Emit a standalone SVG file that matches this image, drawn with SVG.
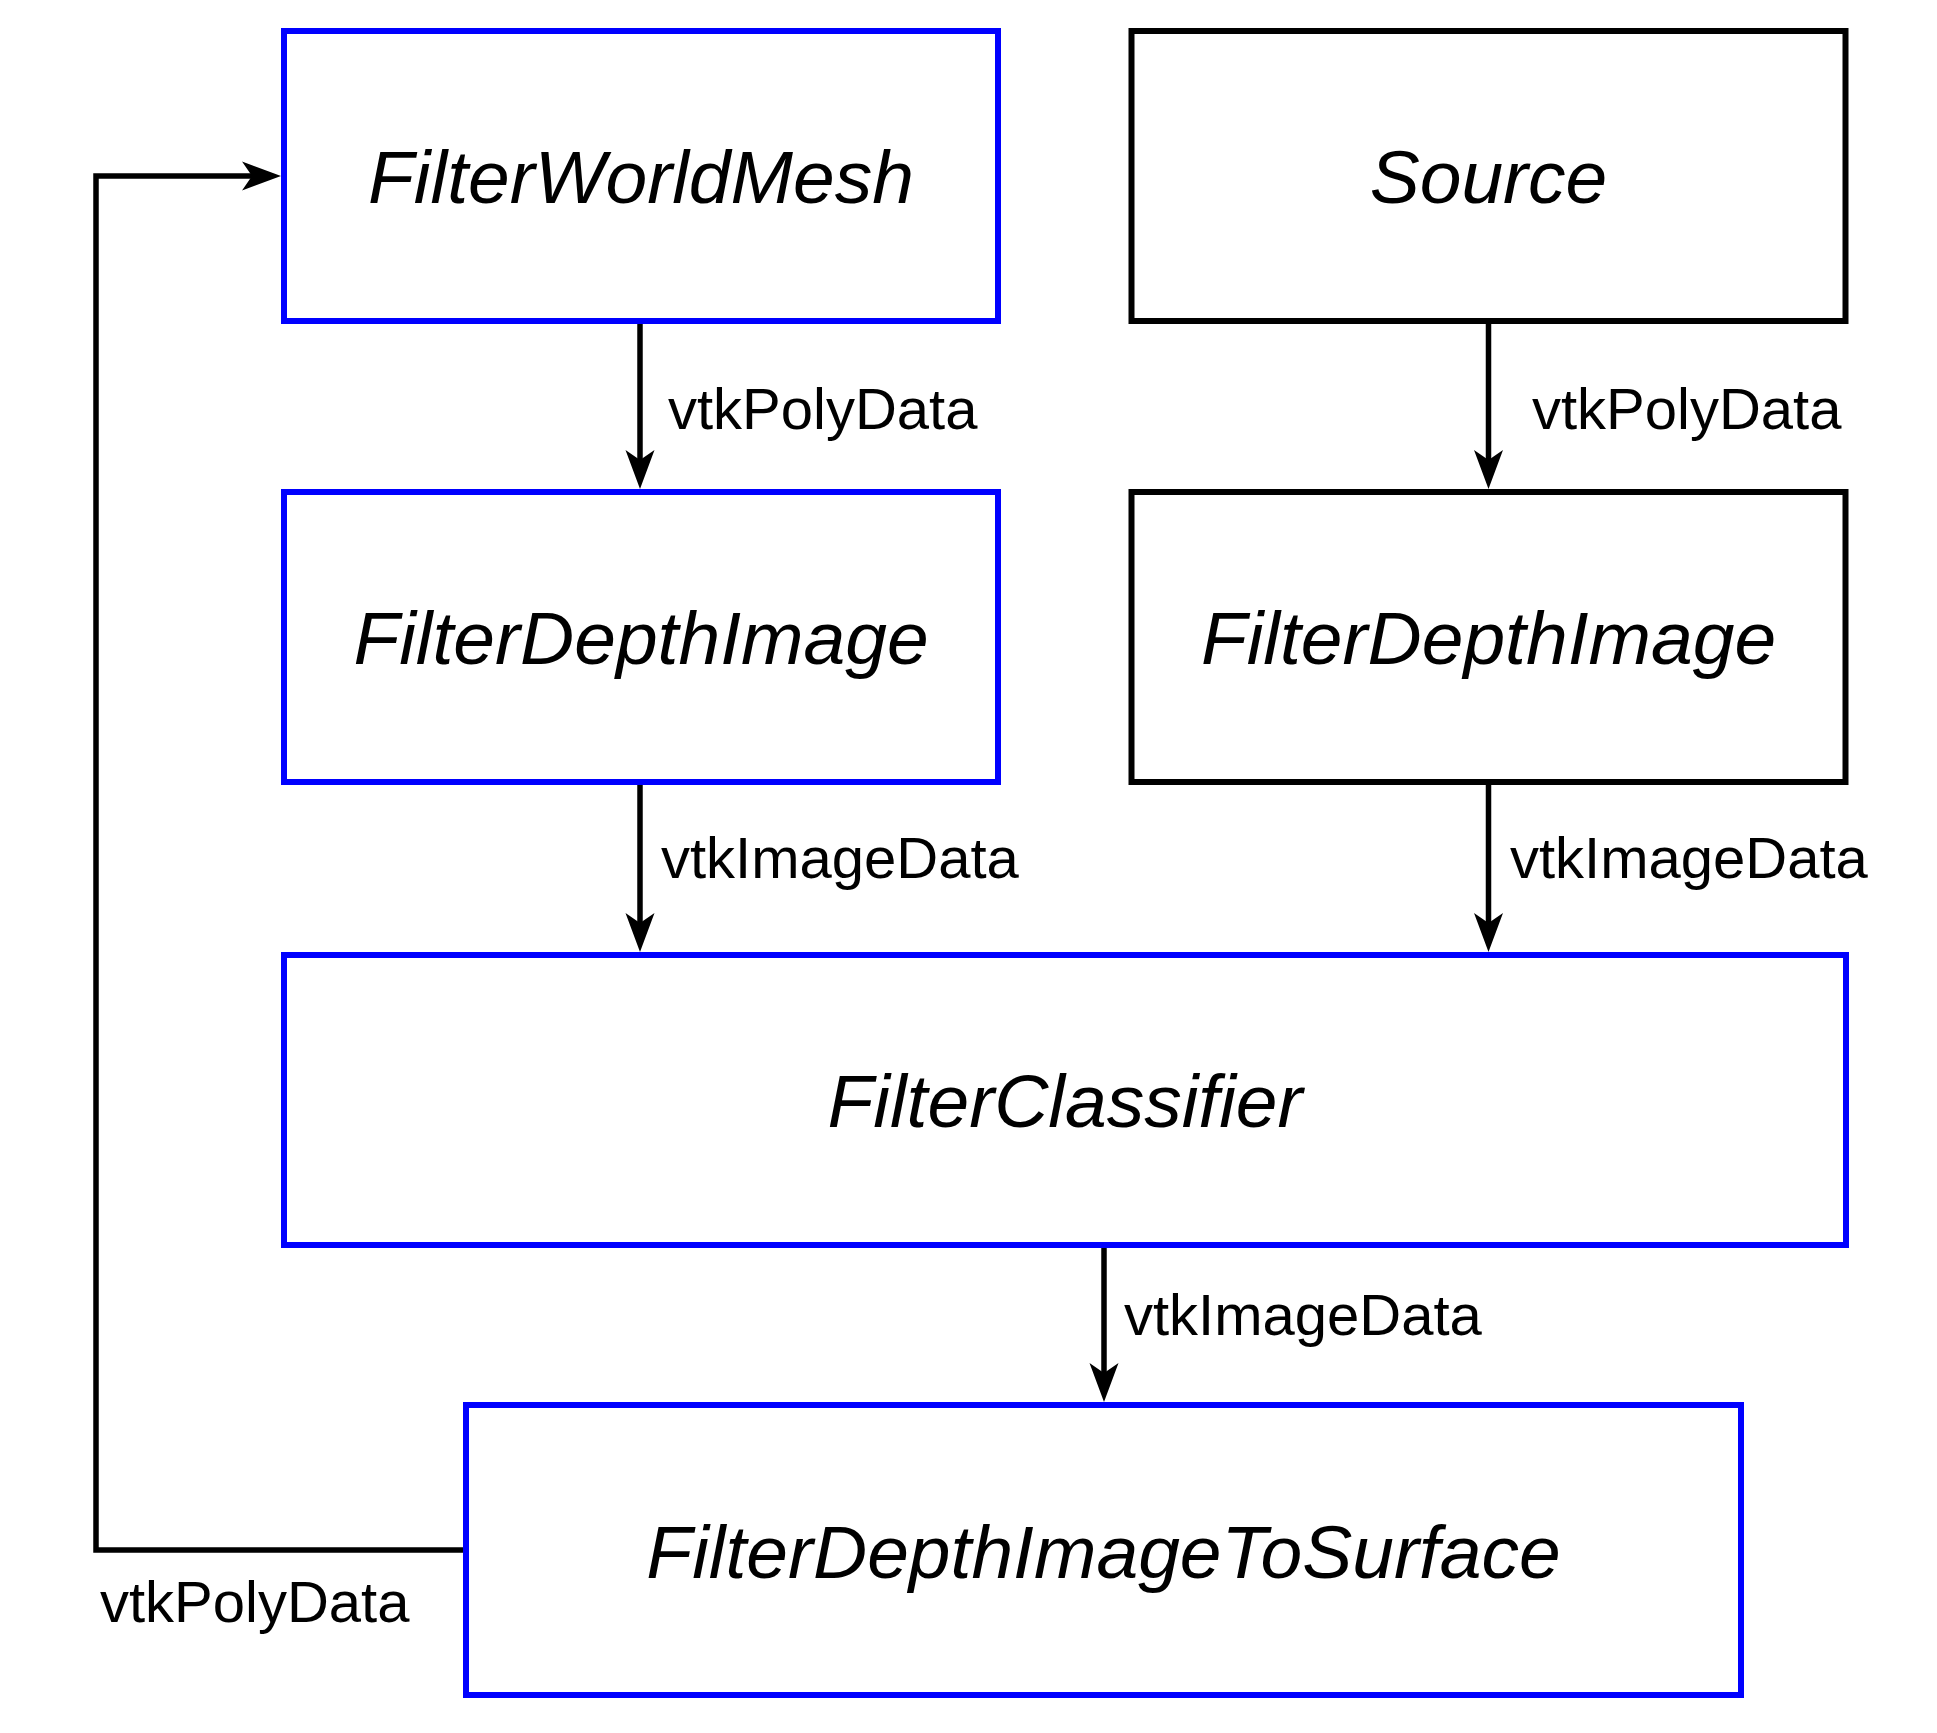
<svg xmlns="http://www.w3.org/2000/svg" width="1937" height="1733" viewBox="0 0 1937 1733">
<style>
.box{fill:#fff;stroke-width:6;stroke-linejoin:miter}
.blue{stroke:#0000ff}
.black{stroke:#000}
.name{font-family:"Liberation Sans",Arial,sans-serif;font-style:italic;font-size:75px;fill:#000;text-anchor:middle}
.lbl{font-family:"Liberation Sans",Arial,sans-serif;font-size:58px;fill:#000}
.conn{fill:none;stroke:#000;stroke-width:5.5;marker-end:url(#arr)}
</style>
<defs>
<marker id="arr" markerWidth="42" markerHeight="32" viewBox="0 -16 42 32" refX="10" refY="0" orient="auto" markerUnits="userSpaceOnUse">
<path d="M39,0 L0,-14.5 L10,0 L0,14.5 Z" fill="#000"/>
</marker>
</defs>
<rect width="1937" height="1733" fill="#fff"/>
<g id="connectors">
<path class="conn" d="M640,324 V460"/>
<path class="conn" d="M1488.5,324 V460"/>
<path class="conn" d="M640,785 V923"/>
<path class="conn" d="M1488.5,785 V923"/>
<path class="conn" d="M1104,1248 V1373"/>
<path class="conn" d="M463,1550 H96 V176 H252"/>
<text class="lbl" x="668" y="429">vtkPolyData</text>
<text class="lbl" x="1532" y="429">vtkPolyData</text>
<text class="lbl" x="661" y="878">vtkImageData</text>
<text class="lbl" x="1510" y="878">vtkImageData</text>
<text class="lbl" x="1124" y="1335">vtkImageData</text>
<text class="lbl" x="100" y="1622">vtkPolyData</text>
</g>
<g id="FilterWorldMesh">
<rect class="box blue" x="284" y="31" width="714" height="290"/>
<text class="name" x="641" y="203">FilterWorldMesh</text>
</g>
<g id="Source">
<rect class="box black" x="1131.5" y="31" width="714" height="290"/>
<text class="name" x="1488.5" y="203">Source</text>
</g>
<g id="FilterDepthImageLeft">
<rect class="box blue" x="284" y="492" width="714" height="290"/>
<text class="name" x="641" y="664">FilterDepthImage</text>
</g>
<g id="FilterDepthImageRight">
<rect class="box black" x="1131.5" y="492" width="714" height="290"/>
<text class="name" x="1488.5" y="664">FilterDepthImage</text>
</g>
<g id="FilterClassifier">
<rect class="box blue" x="284" y="955" width="1562" height="290"/>
<text class="name" x="1065" y="1127">FilterClassifier</text>
</g>
<g id="FilterDepthImageToSurface">
<rect class="box blue" x="466" y="1405" width="1275" height="290"/>
<text class="name" x="1103.5" y="1578">FilterDepthImageToSurface</text>
</g>
</svg>
